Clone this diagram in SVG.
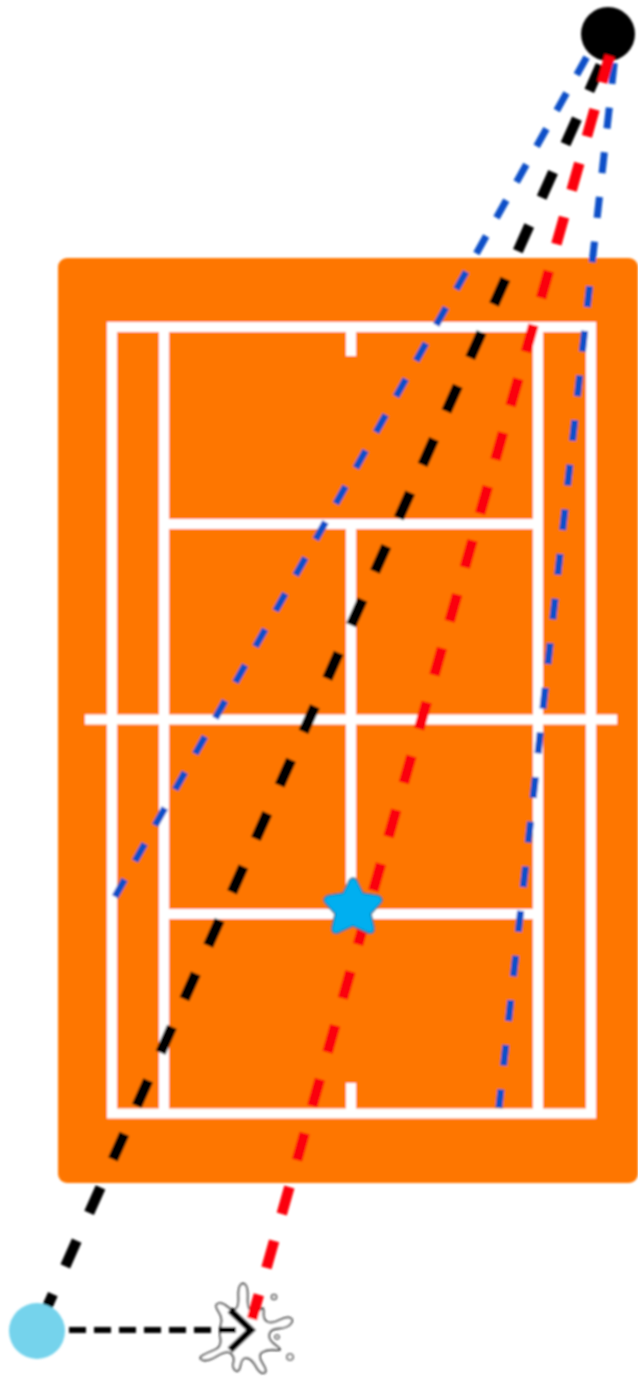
<svg xmlns="http://www.w3.org/2000/svg" width="638" height="1376" viewBox="0 0 638 1376">
<style>
.court{fill:none;stroke:#fff;stroke-width:10}
.link{fill:none;stroke-linecap:butt}
.blue{stroke:#0b4fc8;stroke-width:7}
.black{stroke:#000;stroke-width:10.5;stroke-dasharray:28 30.5}
.red{stroke:#fb0007;stroke-width:10.5;stroke-dasharray:28 28}
.splash{fill:#fff;stroke:#333;stroke-width:1.8}
.drop{fill:#fff;stroke:#555;stroke-width:1.6}
</style>
<defs><filter id="soft" x="-5%" y="-5%" width="110%" height="110%"><feGaussianBlur stdDeviation="0.9"/></filter></defs>
<rect width="638" height="1376" fill="#fff"/>
<g filter="url(#soft)">
<g id="court">
<rect x="58" y="258" width="580" height="925" rx="9" fill="#fe7600"/>
<rect class="court" x="112" y="327" width="479" height="786.500"/>
<path class="court" d="M164 327V1113M538 327V1113M164 524H538M164 914H538M85 719.500H617M351 524V914M351 327V356M351 1083V1113"/>
</g>
<g id="splash">
<path class="splash" d="M238.500 1297Q238 1288 240.500 1285Q243 1282 245.500 1285Q248 1288 247.500 1299Q247 1310 252.500 1311Q258 1312 261 1309Q264 1306 263.500 1313Q263 1320 267.500 1322Q272 1324 279.500 1320Q287 1316 290.500 1318Q294 1320 290.500 1324Q287 1328 278.500 1328.500Q270 1329 269 1334.500Q268 1340 276 1345.500Q284 1351 276 1350Q268 1349 262.500 1352Q257 1355 262.500 1363.500Q268 1372 264 1373Q260 1374 256 1366.500Q252 1359 247 1358Q242 1357 240.500 1365Q239 1373 235.500 1370.500Q232 1368 233.500 1362.500Q235 1357 231 1353.500Q227 1350 217 1356Q207 1362 202.500 1360Q198 1358 202.500 1355.500Q207 1353 214.500 1350Q222 1347 220.500 1338.500Q219 1330 221 1324Q223 1318 218.500 1311.500Q214 1305 218 1303.500Q222 1302 227 1306.500Q232 1311 235.500 1309Q239 1307 238.500 1297Z"/>
<circle class="drop" cx="274" cy="1297" r="2.500"/><circle class="drop" cx="277" cy="1337" r="2"/><circle class="drop" cx="290" cy="1357" r="3"/>
</g>
<g id="receiver"><circle cx="608" cy="34" r="27" fill="#000"/></g>
<g id="connectors">
<path class="link blue" stroke-dasharray="20 21" d="M586.600 57.300L115 896.700"/>
<path class="link blue" stroke-dasharray="21 23.900" d="M614.200 63L498.900 1108"/>
<path class="link black" d="M600.700 65.200L45.800 1310"/>
<path class="link red" d="M609.800 55.500L252 1319"/>
<path class="link" d="M69 1330H240" stroke="#000" stroke-width="6" stroke-dasharray="17 8"/>
<path class="link" d="M230 1310L251 1330L230 1350" stroke="#000" stroke-width="7"/>
</g>
<g id="server"><circle cx="37" cy="1331" r="28" fill="#74d3ec"/></g>
<g id="target"><path d="M353 878C356 878 357 880 358 883L363 893L376 895C382 896 384 900 380 904L371 914L374 927C375 933 371 935 366 932L353 926L340 932C335 935 331 933 332 927L335 914L326 904C322 900 324 896 330 895L343 893L348 883C349 880 350 878 353 878Z" fill="#05aff0" stroke="#1a6b88" stroke-width="1.500"/></g>
</g>
</svg>
